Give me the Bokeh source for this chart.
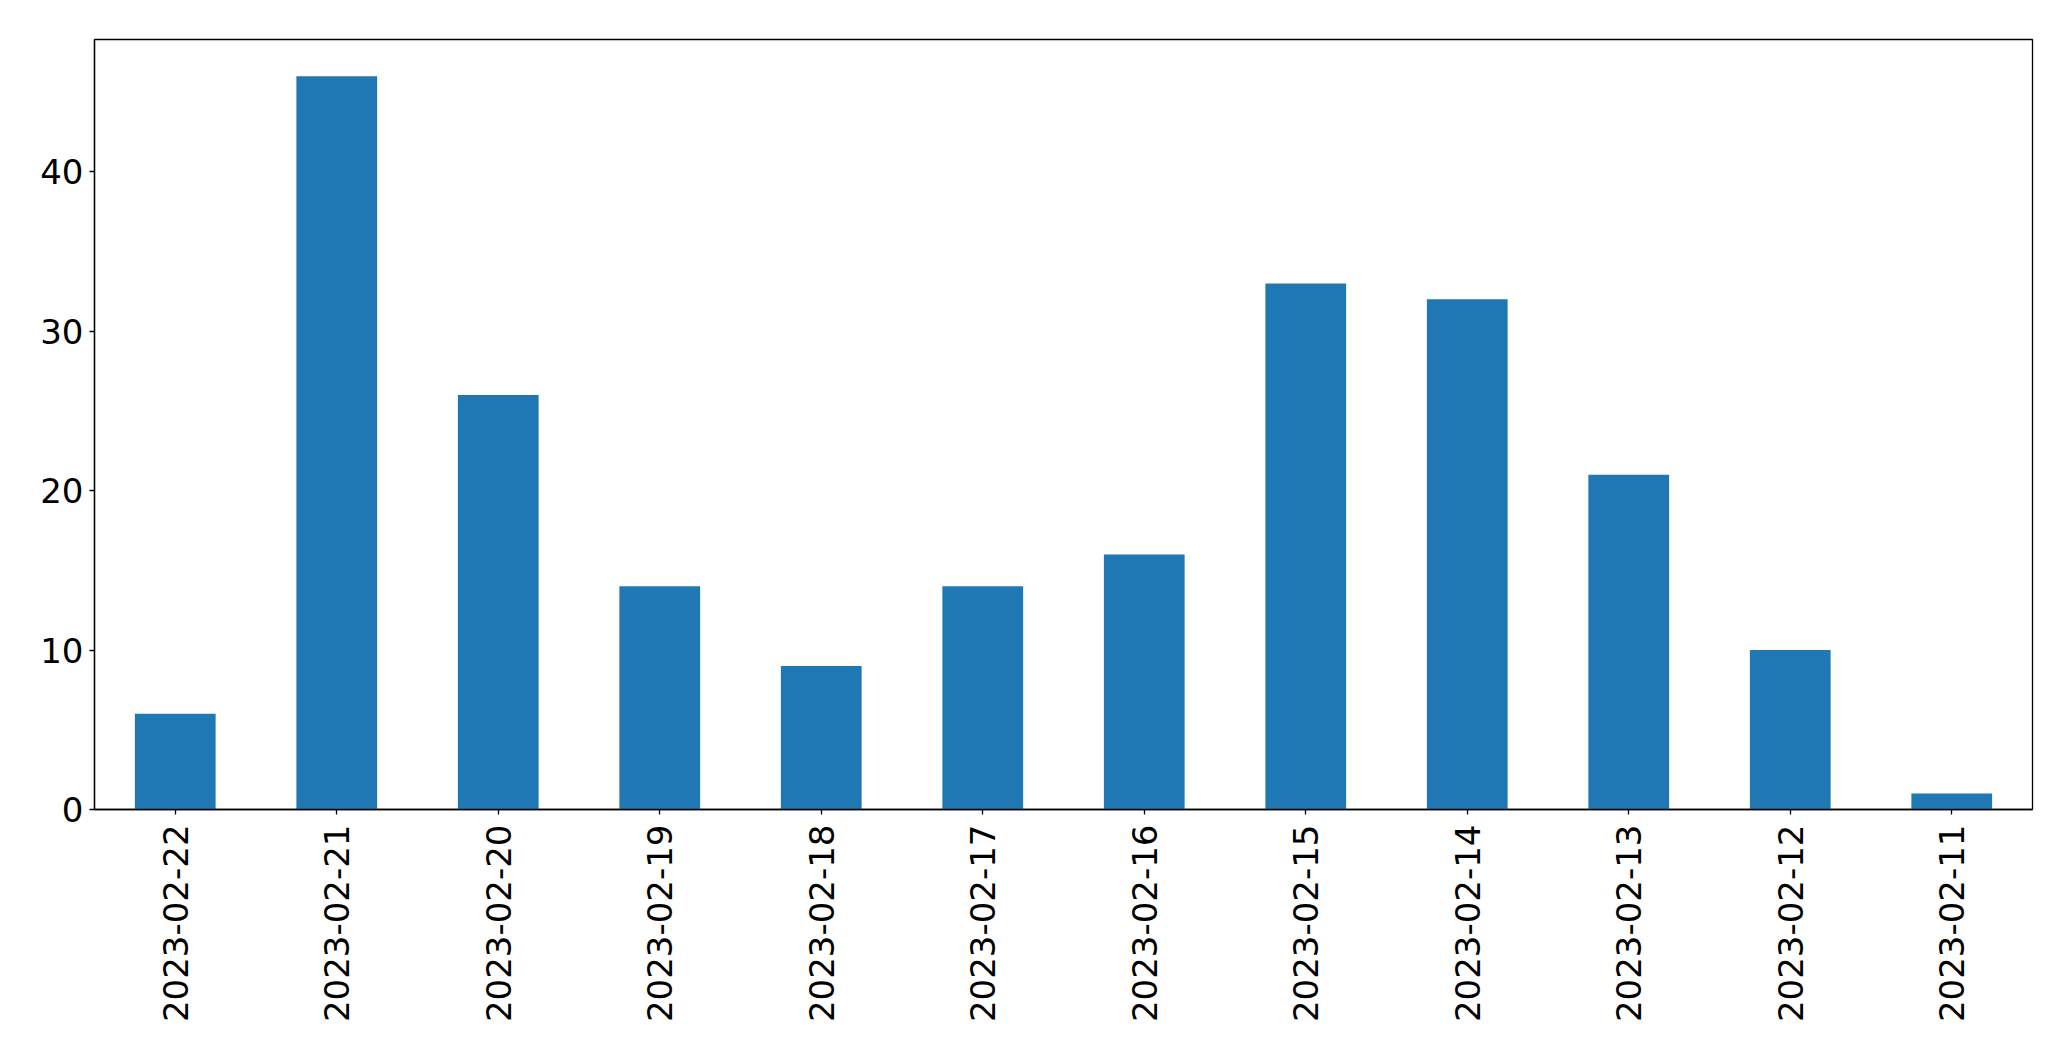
import math
from bokeh.plotting import figure
from bokeh.models import Range1d, FactorRange, FixedTicker, ColumnDataSource
from bokeh.embed import file_html
from bokeh.resources import INLINE

dates = ["2023-02-22", "2023-02-21", "2023-02-20", "2023-02-19", "2023-02-18",
         "2023-02-17", "2023-02-16", "2023-02-15", "2023-02-14", "2023-02-13",
         "2023-02-12", "2023-02-11"]
counts = [6, 46, 26, 14, 9, 14, 16, 33, 32, 21, 10, 1]
y_ticks = [0, 10, 20, 30, 40]

source = ColumnDataSource(data=dict(dates=dates, counts=counts))

p = figure(width=2063, height=1053, output_backend="svg", toolbar_location=None,
           x_range=FactorRange(*dates, range_padding=0),
           y_range=Range1d(0, max(counts) * 1.05))
p.min_border_left = 94
p.min_border_right = 31
p.min_border_top = 39
p.min_border_bottom = 244

p.vbar(x="dates", top="counts", width=0.5, source=source,
       fill_color="#1f77b4", line_color=None)

p.xgrid.visible = False
p.ygrid.visible = False
p.outline_line_color = "black"
p.outline_line_width = 1.3
p.outline_line_alpha = 1

for ax in (p.xaxis, p.yaxis):
    ax.axis_line_color = "black"
    ax.axis_line_width = 1.3
    ax.major_tick_line_color = "black"
    ax.major_tick_line_width = 1.3
    ax.major_tick_out = 5
    ax.major_tick_in = 0
    ax.minor_tick_line_color = None
    ax.major_label_text_font = "DejaVu Sans"
    ax.major_label_text_font_size = "34px"
    ax.major_label_text_color = "black"

p.yaxis.ticker = FixedTicker(ticks=y_ticks)
p.yaxis.major_label_standoff = 6
p.xaxis.major_label_orientation = math.pi / 2
p.xaxis.major_label_standoff = 10

open("out.html", "w").write(file_html(p, INLINE))
